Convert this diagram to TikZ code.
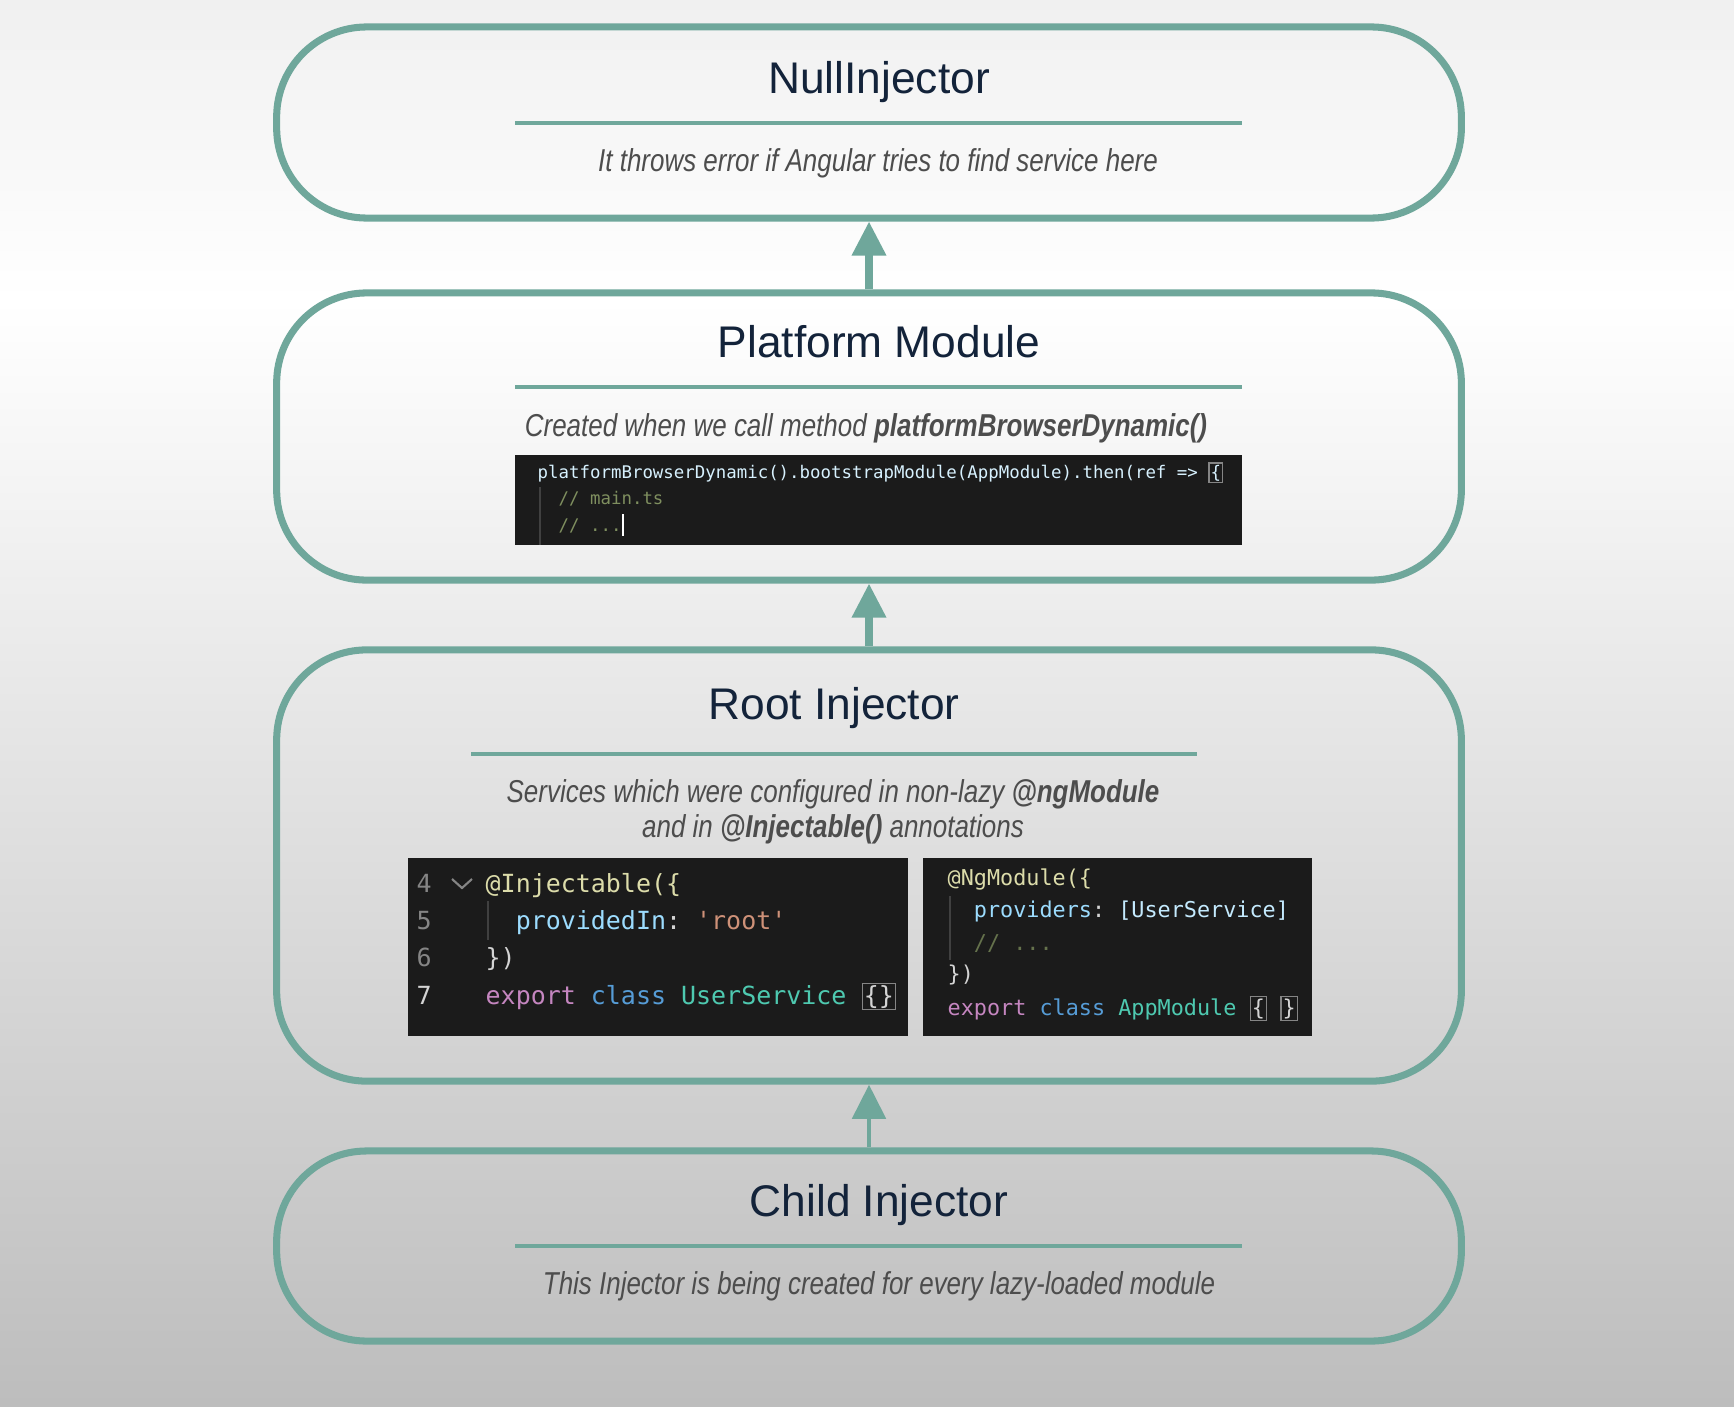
\documentclass[tikz,border=0pt]{standalone}
\usepackage{fontspec}
\setmainfont{Liberation Sans}
\setmonofont{DejaVu Sans Mono}
\newfontfamily\notefont[FakeStretch=0.82]{Liberation Sans}
\usetikzlibrary{arrows.meta}

\definecolor{injline}{HTML}{6FA79B}
\definecolor{titlecol}{HTML}{13233A}
\definecolor{notecol}{HTML}{4D4D4D}
\definecolor{bgtop}{HTML}{F0F0F0}
\definecolor{bgbot}{HTML}{BDBDBD}
\definecolor{codebg}{HTML}{1B1B1B}
\definecolor{codetext}{HTML}{D4D4D4}
\definecolor{codefun}{HTML}{DCDCAA}
\definecolor{codeprop}{HTML}{9CDCFE}
\definecolor{codestr}{HTML}{CE9178}
\definecolor{codekey}{HTML}{C586C0}
\definecolor{codeblue}{HTML}{569CD6}
\definecolor{codetype}{HTML}{4EC9B0}
\definecolor{codecom}{HTML}{7F8F5F}
\definecolor{lnum}{HTML}{858585}
\definecolor{guide}{HTML}{404040}

% bracket match box of the editor
\newcommand\brk[1]{{\fboxsep=0.3pt\fboxrule=0.35pt\fcolorbox{lnum}{codebg}{#1}}}

\tikzset{
	injbox/.style={draw=injline, line width=2pt, rounded corners=0.9cm, minimum width=11.84cm, inner sep=0pt},
	sepline/.style={injline, line width=0.9pt},
	lvltitle/.style={anchor=base, text=titlecol, font=\fontsize{12.6}{15}\selectfont},
	lvlnote/.style={anchor=base, text=notecol, font=\notefont\itshape\fontsize{9}{11}\selectfont},
	codeln/.style={anchor=base west, inner sep=0pt, text=codetext},
	uparrow/.style={injline, line width=2pt, -{Triangle[width=9.4pt,length=9.7pt]}},
}

\begin{document}
\begin{tikzpicture}[x=0.01cm, y=-0.01cm]
	% background
	\shade[top color=bgtop, bottom color=white] (0,0) rectangle (1734,300);
	\shade[top color=white, bottom color=bgbot] (0,300) rectangle (1734,1406);
	\useasboundingbox (0,0) rectangle (1734,1406);

	% injector levels
	\node[injbox, minimum height=1.91cm] (nullinj) at (869,122.5) {};
	\node[injbox, minimum height=2.87cm] (platform) at (869,436.5) {};
	\node[injbox, minimum height=4.31cm] (root) at (869,865.5) {};
	\node[injbox, minimum height=1.90cm] (child) at (869,1246) {};

	\draw[uparrow] (platform.north) -- (nullinj.south);
	\draw[uparrow] (root.north) -- (platform.south);
	\draw[uparrow, line width=1.4pt] (child.north) -- (root.south);

	\foreach \y in {123,387,1246}
		\draw[sepline] (515,\y) -- (1242,\y);
	\draw[sepline] (471,754) -- (1197,754);

	\node[lvltitle] (nullTitle) at (879,93.5) {NullInjector};
	\node[lvlnote] (nullNote) at (878,171) {It throws error if Angular tries to find service here};

	\node[lvltitle] (platformTitle) at (879,357.5) {Platform Module};
	\node[lvlnote] (platformNote) at (866,436) {Created when we call method \textbf{platformBrowserDynamic()}};

	\node[lvltitle] (rootTitle) at (834,719.5) {Root Injector};
	\node[lvlnote] (rootNoteA) at (833,802) {Services which were configured in non-lazy \textbf{@ngModule}};
	\node[lvlnote] (rootNoteB) at (833,837) {and in \textbf{@Injectable()} annotations};

	\node[lvltitle] (childTitle) at (879,1216.5) {Child Injector};
	\node[lvlnote] (childNote) at (879,1294) {This Injector is being created for every lazy-loaded module};

	% main.ts snippet
	\fill[codebg] (515,455) rectangle (1242,545);
	\draw[guide, line width=0.5pt] (540,487) -- (540,545);
	\begin{scope}[every node/.style={codeln, font=\ttfamily\fontsize{4.95}{6}\selectfont}]
		\node (mainA) at (537,478) {\textcolor{codeprop!40!white}{platformBrowserDynamic().bootstrapModule(AppModule).then(ref => \brk{\{}}};
		\node (mainB) at (537,504) {\textcolor{codecom}{~~// main.ts}};
		\node (mainC) at (537,531) {\textcolor{codecom}{~~// ...}};
	\end{scope}
	\draw[white, line width=0.5pt] (623,514) -- (623,536);

	% @Injectable snippet
	\fill[codebg] (408,858) rectangle (908,1036);
	\draw[guide, line width=0.5pt] (488,901) -- (488,940);
	\draw[lnum, line width=0.6pt] (452,879) -- (462,888) -- (472,879);
	\begin{scope}[every node/.style={codeln, font=\ttfamily\fontsize{7.1}{9}\selectfont}]
		\node[text=lnum] (lnA) at (416,892) {4};
		\node[text=lnum] (lnB) at (416,929) {5};
		\node[text=lnum] (lnC) at (416,966) {6};
		\node[text=codetext] (lnD) at (416,1004) {7};
		\node (injA) at (485,892) {\textcolor{codefun}{@Injectable(\{}};
		\node (injB) at (485,929) {~~\textcolor{codeprop}{providedIn}: \textcolor{codestr}{'root'}};
		\node (injC) at (485,966) {\})};
		\node (injD) at (485,1004) {\textcolor{codekey}{export} \textcolor{codeblue}{class} \textcolor{codetype}{UserService} \brk{\{\}}};
	\end{scope}

	% @NgModule snippet
	\fill[codebg] (923,858) rectangle (1312,1036);
	\draw[guide, line width=0.5pt] (950,896) -- (950,960);
	\begin{scope}[every node/.style={codeln, font=\ttfamily\fontsize{6.2}{8}\selectfont}]
		\node (ngA) at (947,885) {\textcolor{codefun}{@NgModule(\{}};
		\node (ngB) at (947,917) {~~\textcolor{codeprop}{providers}: \textcolor{codeprop!60!white}{[UserService]}};
		\node (ngC) at (947,950) {~~\textcolor{codecom!80!black}{// ...}};
		\node (ngD) at (947,981) {\})};
		\node (ngE) at (947,1015) {\textcolor{codekey}{export} \textcolor{codeblue}{class} \textcolor{codetype}{AppModule} \brk{\{} \brk{\}}};
	\end{scope}
\end{tikzpicture}
\end{document}
